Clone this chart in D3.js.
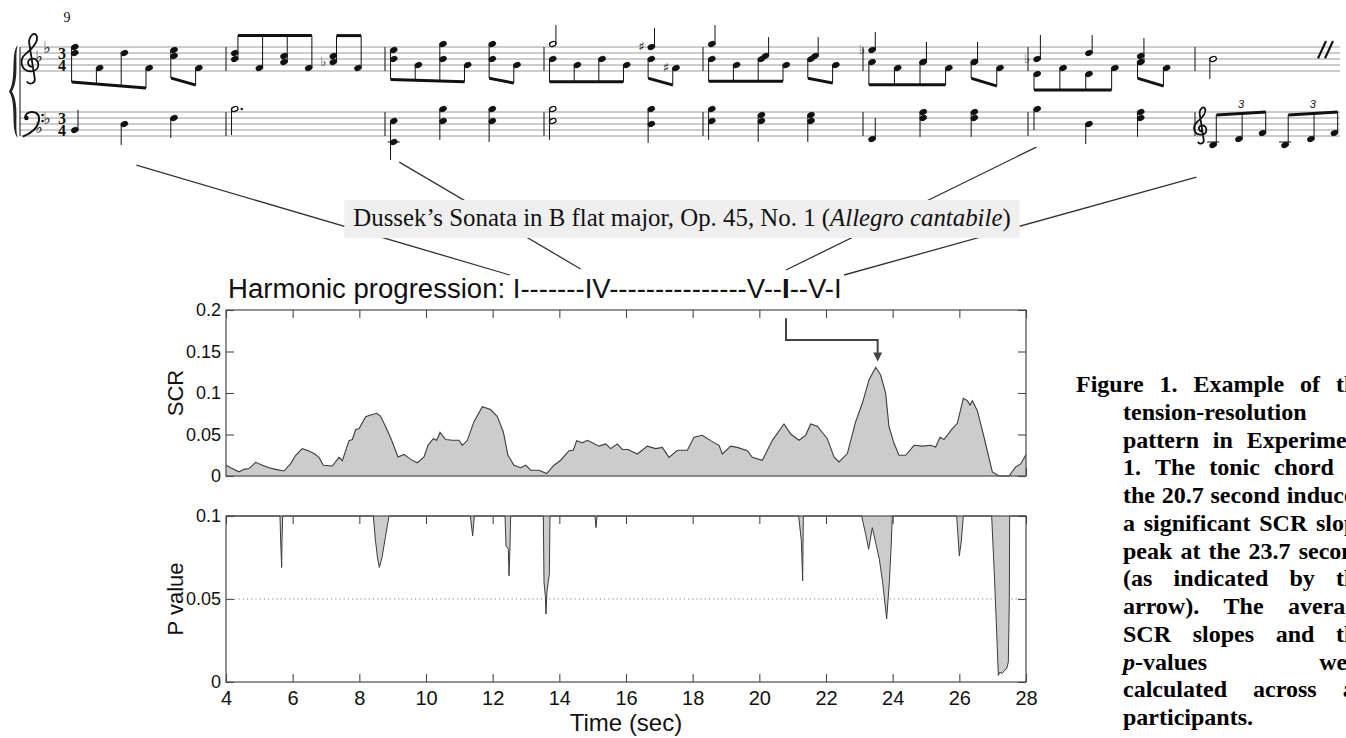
<!DOCTYPE html>
<html>
<head>
<meta charset="utf-8">
<script src="https://cdn.jsdelivr.net/npm/d3@7"></script>
<style>
  body { margin: 0; background: #fff; }
  svg { display: block; }
</style>
</head>
<body>
<svg id="fig" width="1346" height="738"></svg>
<script>
// ---------------- data ----------------
const timeTicks = [4, 6, 8, 10, 12, 14, 16, 18, 20, 22, 24, 26, 28];
const scrTicks = [0, 0.05, 0.1, 0.15, 0.2];
const pTicks = [0, 0.05, 0.1];
const pThreshold = 0.05;

// average SCR slope, [time (sec), value]
const scrSeries = [
  [4.00,0.013],[4.14,0.010],[4.39,0.005],[4.54,0.008],[4.69,0.009],[4.89,0.0165],[5.09,0.013],
  [5.29,0.010],[5.49,0.008],[5.74,0.006],[5.94,0.015],[6.09,0.025],[6.29,0.033],[6.49,0.030],
  [6.64,0.027],[6.79,0.0225],[6.92,0.013],[7.19,0.012],[7.39,0.0225],[7.49,0.0185],[7.69,0.0426],
  [7.79,0.044],[7.89,0.056],[7.99,0.057],[8.19,0.0715],[8.34,0.0735],[8.52,0.0755],[8.64,0.072],
  [8.84,0.055],[8.99,0.041],[9.16,0.023],[9.34,0.026],[9.54,0.020],[9.74,0.016],[9.94,0.023],
  [10.06,0.037],[10.22,0.045],[10.32,0.043],[10.42,0.0525],[10.59,0.044],[10.79,0.043],[10.99,0.043],
  [11.09,0.037],[11.24,0.043],[11.44,0.0655],[11.69,0.0835],[11.94,0.080],[12.14,0.0715],[12.32,0.053],
  [12.46,0.025],[12.64,0.013],[12.84,0.010],[12.99,0.013],[13.14,0.007],[13.39,0.007],[13.62,0.003],
  [13.84,0.013],[14.04,0.019],[14.29,0.0305],[14.42,0.031],[14.52,0.0426],[14.69,0.040],[14.84,0.043],
  [14.99,0.040],[15.19,0.036],[15.39,0.0386],[15.54,0.033],[15.74,0.0386],[15.89,0.032],[16.06,0.032],
  [16.34,0.0265],[16.64,0.036],[16.89,0.033],[17.09,0.0345],[17.29,0.0225],[17.54,0.031],[17.84,0.031],
  [18.04,0.0466],[18.29,0.049],[18.54,0.0426],[18.79,0.037],[18.89,0.0265],[19.14,0.036],[19.34,0.0345],
  [19.64,0.0305],[19.79,0.0225],[20.09,0.019],[20.39,0.043],[20.74,0.0627],[20.94,0.0506],[21.19,0.043],
  [21.39,0.049],[21.54,0.0627],[21.74,0.060],[22.04,0.045],[22.24,0.023],[22.39,0.017],[22.64,0.027],
  [22.89,0.0655],[23.09,0.0876],[23.29,0.1157],[23.49,0.131],[23.64,0.1217],[23.79,0.0996],[23.89,0.0594],
  [24.04,0.0394],[24.19,0.025],[24.39,0.025],[24.64,0.037],[24.89,0.036],[25.14,0.037],[25.29,0.035],
  [25.42,0.0466],[25.54,0.044],[25.79,0.057],[25.94,0.0635],[26.12,0.0936],[26.24,0.0908],[26.32,0.0855],
  [26.39,0.0908],[26.54,0.0787],[26.74,0.047],[26.99,0.005],[27.19,0],[27.49,0],[27.69,0.011],
  [27.84,0.0145],[28.00,0.026]
];

// p values, [time (sec), p]; p of 0.1 or more sits above the plotted range
const pSeries = [
  [4,0.1],
  [5.62,0.1],[5.64,0.085],[5.67,0.069],[5.68,0.085],[5.70,0.1],
  [8.42,0.1],[8.48,0.086],[8.55,0.074],[8.60,0.069],[8.68,0.075],[8.78,0.087],[8.89,0.1],
  [11.33,0.1],[11.40,0.088],[11.45,0.1],
  [12.37,0.1],[12.40,0.082],[12.47,0.080],[12.49,0.064],[12.52,0.082],[12.54,0.1],
  [13.52,0.1],[13.54,0.060],[13.58,0.052],[13.60,0.041],[13.63,0.055],[13.70,0.065],[13.72,0.1],
  [15.07,0.1],[15.10,0.093],[15.13,0.1],
  [21.18,0.1],[21.26,0.085],[21.30,0.061],[21.32,0.1],
  [23.07,0.1],[23.20,0.088],[23.28,0.080],[23.39,0.093],[23.50,0.083],[23.60,0.074],[23.70,0.060],
  [23.82,0.038],[23.90,0.060],[23.95,0.080],[23.99,0.1],
  [25.92,0.1],[25.97,0.085],[26.00,0.076],[26.06,0.085],[26.12,0.1],
  [26.97,0.1],[27.05,0.065],[27.12,0.030],[27.17,0.004],[27.22,0.006],[27.28,0.005],[27.35,0.007],
  [27.42,0.008],[27.47,0.012],[27.50,0.050],[27.51,0.1],
  [28,0.1]
];

const harmonicLabel = "Harmonic progression: ";
const harmonicParts = ["I", "-------", "IV", "---------------", "V", "--", "I", "--", "V", "-", "I"];
const boldPart = 6;
// arrow from the tonic chord to the SCR peak: [time, value] corners
const arrowCorners = [[20.8, 0.19], [20.8, 0.164], [23.55, 0.164], [23.55, 0.138]];

const pieceTitle = ["Dussek’s Sonata in B flat major, Op. 45, No. 1 (", "Allegro cantabile", ")"];

const captionLines = [
  ["Figure 1. Example of the", true],
  ["tension-resolution", false],
  ["pattern in Experiment", true],
  ["1. The tonic chord at", true],
  ["the 20.7 second induced", true],
  ["a significant SCR slope", true],
  ["peak at the 23.7 second", true],
  ["(as indicated by the", true],
  ["arrow). The average", true],
  ["SCR slopes and the", true],
  ["p-values were", true],
  ["calculated across all", true],
  ["participants.", false]
];

// ---- score excerpt (bars 9-16) ----
// st: staff, m: bar index, e: eighth in bar, s: staff steps (0 = top line, 8 = bottom line)
// d: stem direction, end: stem end step, h: half note, acc: [step, sign]
const measureNumber = "9";
const keyFlats = { t: [4, 1], b: [6, 3] };
const timeSig = ["3", "4"];
const scoreNotes = [
  {st:"t",m:0,e:0,s:[0,2],d:"d"},{st:"t",m:0,e:1,s:[7],d:"d"},{st:"t",m:0,e:2,s:[2],d:"d"},
  {st:"t",m:0,e:3,s:[7],d:"d"},{st:"t",m:0,e:4,s:[1,3],d:"d"},{st:"t",m:0,e:5,s:[7],d:"d"},

  {st:"t",m:1,e:0,s:[2,4],d:"u"},{st:"t",m:1,e:1,s:[7],d:"u"},{st:"t",m:1,e:2,s:[3,5],d:"u"},
  {st:"t",m:1,e:3,s:[7],d:"u"},{st:"t",m:1,e:4,s:[3,5],d:"u",acc:[5,"♭"]},{st:"t",m:1,e:5,s:[7],d:"u"},

  {st:"t",m:2,e:0,s:[1,4],d:"d"},{st:"t",m:2,e:1,s:[6],d:"d"},{st:"t",m:2,e:2,s:[-1,4],d:"d"},
  {st:"t",m:2,e:3,s:[6],d:"d"},{st:"t",m:2,e:4,s:[-1,4],d:"d"},{st:"t",m:2,e:5,s:[6],d:"d"},

  {st:"t",m:3,e:0,s:[-1],d:"u",h:true,end:-7.3},
  {st:"t",m:3,e:0,s:[4],d:"d"},{st:"t",m:3,e:1,s:[6],d:"d"},{st:"t",m:3,e:2,s:[4],d:"d"},{st:"t",m:3,e:3,s:[6],d:"d"},
  {st:"t",m:3,e:4,s:[0],d:"u",end:-6.3,acc:[0,"♯"]},
  {st:"t",m:3,e:4,s:[4],d:"d"},{st:"t",m:3,e:5,s:[7],d:"d",acc:[7,"♯"]},

  {st:"t",m:4,e:0,s:[-1],d:"u",end:-7.3},
  {st:"t",m:4,e:0,s:[4],d:"d"},{st:"t",m:4,e:1,s:[6],d:"d"},{st:"t",m:4,e:2,s:[4],d:"d"},{st:"t",m:4,e:3,s:[6],d:"d"},
  {st:"t",m:4,e:2,s:[3],d:"u",end:-3.3,dx:4},{st:"t",m:4,e:4,s:[3],d:"u",end:-3.3,dx:4},
  {st:"t",m:4,e:4,s:[4],d:"d"},{st:"t",m:4,e:5,s:[6],d:"d"},

  {st:"t",m:5,e:0,s:[1],d:"u",end:-5,acc:[1,"♭"]},
  {st:"t",m:5,e:0,s:[5],d:"d"},{st:"t",m:5,e:1,s:[7],d:"d"},{st:"t",m:5,e:2,s:[5],d:"d"},{st:"t",m:5,e:3,s:[7],d:"d"},
  {st:"t",m:5,e:2,s:[5],d:"u",end:-1.7},{st:"t",m:5,e:4,s:[5],d:"u",end:-1.7},
  {st:"t",m:5,e:4,s:[5],d:"d"},{st:"t",m:5,e:5,s:[7],d:"d"},

  {st:"t",m:6,e:0,s:[4],d:"u",end:-4,acc:[4,"♭"]},
  {st:"t",m:6,e:0,s:[9],d:"d"},{st:"t",m:6,e:1,s:[7],d:"d"},{st:"t",m:6,e:2,s:[9],d:"d"},{st:"t",m:6,e:3,s:[7],d:"d"},
  {st:"t",m:6,e:2,s:[2],d:"u",end:-4},{st:"t",m:6,e:4,s:[3,5],d:"u",end:-3},
  {st:"t",m:6,e:4,s:[5],d:"d"},{st:"t",m:6,e:5,s:[7],d:"d"},

  {st:"t",m:7,e:0.45,s:[4],d:"d",h:true,end:10.7},

  {st:"b",m:0,e:0,s:[6],d:"u",end:-0.7},{st:"b",m:0,e:2,s:[4],d:"d",end:11},{st:"b",m:0,e:4,s:[2],d:"d",end:8.7},
  {st:"b",m:1,e:0,s:[-1],d:"d",h:true,end:7.7,dot:true},
  {st:"b",m:2,e:0,s:[3,10],d:"d",end:16},{st:"b",m:2,e:2,s:[-1,3],d:"d",end:9.3},{st:"b",m:2,e:4,s:[-1,3],d:"d",end:10},
  {st:"b",m:3,e:0,s:[-1,3],d:"d",h:true,end:9.3},{st:"b",m:3,e:4,s:[-1,4],d:"d",end:10.3},
  {st:"b",m:4,e:0,s:[-1,3],d:"d",end:9.3},{st:"b",m:4,e:2,s:[1,3],d:"d",end:10},{st:"b",m:4,e:4,s:[1,3],d:"d",end:10},
  {st:"b",m:5,e:0,s:[9],d:"u",end:2},{st:"b",m:5,e:2,s:[0,2],d:"d",end:8.3},{st:"b",m:5,e:4,s:[0,2],d:"d",end:8.3},
  {st:"b",m:6,e:0,s:[-1],d:"d",end:6},{st:"b",m:6,e:2,s:[4],d:"d",end:10.7},{st:"b",m:6,e:4,s:[0,2],d:"d",end:8.3},
  {st:"b",m:7,e:0.45,s:[11],d:"u"},{st:"b",m:7,e:1.6,s:[9],d:"u"},{st:"b",m:7,e:2.65,s:[7],d:"u"},
  {st:"b",m:7,e:3.65,s:[11],d:"u"},{st:"b",m:7,e:4.8,s:[9],d:"u"},{st:"b",m:7,e:5.85,s:[7],d:"u"}
];
// beams: staff, bar, first/last eighth, direction, start/end step
const scoreBeams = [
  {st:"t",m:0,e0:0,e1:3,d:"d",s0:11.7,s1:13.7},{st:"t",m:0,e0:4,e1:5,d:"d",s0:10.3,s1:12.7},
  {st:"t",m:1,e0:0,e1:3,d:"u",s0:-3.8,s1:-3.8},{st:"t",m:1,e0:4,e1:5,d:"u",s0:-3.8,s1:-3.8},
  {st:"t",m:2,e0:0,e1:3,d:"d",s0:10.8,s1:11.6},{st:"t",m:2,e0:4,e1:5,d:"d",s0:10.4,s1:12},
  {st:"t",m:3,e0:0,e1:3,d:"d",s0:11.6,s1:11.6},{st:"t",m:3,e0:4,e1:5,d:"d",s0:10.4,s1:12.7},
  {st:"t",m:4,e0:0,e1:3,d:"d",s0:11.4,s1:11.4},{st:"t",m:4,e0:4,e1:5,d:"d",s0:10.4,s1:12},
  {st:"t",m:5,e0:0,e1:3,d:"d",s0:12.6,s1:12.6},{st:"t",m:5,e0:4,e1:5,d:"d",s0:10.4,s1:13},
  {st:"t",m:6,e0:0,e1:3,d:"d",s0:14.3,s1:14.3},{st:"t",m:6,e0:4,e1:5,d:"d",s0:10.4,s1:13},
  {st:"b",m:7,e0:0.45,e1:2.65,d:"u",s0:1,s1:0,tri:true},{st:"b",m:7,e0:3.65,e1:5.85,d:"u",s0:1,s1:0,tri:true}
];
// lines from the score down to the chord names: bar position, bass-staff step, chord part
const connectors = [
  {m:0.44, s:17.7, part:0, dx:-3, dy:-23},
  {m:2.09, s:16.7, part:2, dx:-4, dy:-29},
  {m:6.05, s:11.7, part:6, dx:4, dy:-28},
  {m:7.01, s:21.7, part:10, dx:10, dy:-23}
];

// ---------------- drawing ----------------
const svg = d3.select("#fig");
const sans = "'Liberation Sans', Arial, sans-serif";
const serif = "'Liberation Serif', 'Times New Roman', serif";
const ink = "#111";

// ---- score ----
const score = svg.append("g");
const barX = d3.scaleLinear().domain(d3.range(9)).range([66, 226, 385, 544, 703, 863, 1028, 1195, 1340]);
const noteX = (m, e) => barX(m + 0.055 + e * 0.155);
const trebleY = d3.scaleLinear().domain([0, 8]).range([47, 71]);
const bassY = d3.scaleLinear().domain([0, 8]).range([112, 136]);
const staffY = st => st === "t" ? trebleY : bassY;

[trebleY, bassY].forEach(ys => {
  [0, 2, 4, 6, 8].forEach(l => score.append("line")
    .attr("x1", 20).attr("x2", 1340).attr("y1", ys(l)).attr("y2", ys(l))
    .attr("stroke", "#9a9a9a").attr("stroke-width", 1));
  d3.range(1, 8).forEach(b => score.append("line")
    .attr("x1", barX(b)).attr("x2", barX(b)).attr("y1", ys(0)).attr("y2", ys(8))
    .attr("stroke", "#333").attr("stroke-width", 1.2));
});
score.append("line").attr("x1", 20).attr("x2", 20).attr("y1", trebleY(0)).attr("y2", bassY(8))
  .attr("stroke", "#333").attr("stroke-width", 1.2);
score.append("path")
  .attr("d", "M18,45 C10,52 17,79 9,91.5 C17,104 10,131 18,138 C14,129 20,105 12,91.5 C20,78 14,54 18,45 Z")
  .attr("fill", "#222");

const trebleClef = "M0.3,0.3 C-0.6,0.3 -0.8,-0.9 0.2,-1.0 C1.4,-1.1 1.6,0.9 0.1,1.0 C-1.6,1.1 -2.0,-0.8 -0.8,-1.8 " +
  "C0.4,-2.8 1.2,-3.8 0.9,-4.6 C0.6,-5.4 -0.3,-4.6 -0.3,-3.6 L0.6,2.2 C0.7,2.9 -0.2,3.2 -0.6,2.7";
function drawTrebleClef(cx, gy, k) {
  score.append("path").attr("d", trebleClef)
    .attr("transform", `translate(${cx},${gy}) scale(${k})`)
    .attr("fill", "none").attr("stroke", ink).attr("stroke-width", 1.8)
    .attr("vector-effect", "non-scaling-stroke").attr("stroke-linecap", "round");
}
drawTrebleClef(31, trebleY(6), 6.3);
drawTrebleClef(1201, bassY(6), 4.6);

const bc = score.append("g").attr("transform", `translate(30,${bassY(2)}) scale(6)`);
bc.append("circle").attr("cx", -0.6).attr("cy", 0).attr("r", 0.38).attr("fill", ink);
bc.append("path").attr("d", "M-0.8,0 C-0.9,-1.3 1.5,-1.4 1.5,0 C1.6,1.5 0.2,2.6 -1.2,3.1")
  .attr("fill", "none").attr("stroke", ink).attr("stroke-width", 2).attr("vector-effect", "non-scaling-stroke");
[-0.5, 0.5].forEach(dy => bc.append("circle").attr("cx", 2.1).attr("cy", dy).attr("r", 0.22).attr("fill", ink));

Object.entries(keyFlats).forEach(([st, steps]) => steps.forEach((s, i) =>
  score.append("text").attr("x", 39 + i * 8).attr("y", staffY(st)(s) + 3)
    .attr("text-anchor", "middle").style("font-family", "'DejaVu Sans'").style("font-size", "16px")
    .attr("fill", ink).text("♭")));
["t", "b"].forEach(st => {
  const ts = score.append("text").attr("text-anchor", "middle").style("font-family", serif)
    .style("font-weight", "bold").style("font-size", "16px").attr("fill", ink);
  timeSig.forEach((t, i) => ts.append("tspan").attr("x", 62).attr("y", staffY(st)(4 + i * 4) - 0.5).text(t));
});
score.append("text").attr("x", 67).attr("y", 22).attr("text-anchor", "middle")
  .style("font-family", serif).style("font-size", "14px").attr("fill", ink).text(measureNumber);

const stemX = n => { const hx = noteX(n.m, n.e) + (n.dx || 0); return n.d === "u" ? hx + 3.2 : hx - 3.2; };
const beamFor = n => scoreBeams.find(b => b.st === n.st && b.m === n.m && b.d === n.d &&
  n.e >= b.e0 - 1e-6 && n.e <= b.e1 + 1e-6);
function beamY(b, sx) {
  const xa = stemX({m: b.m, e: b.e0, d: b.d}), xb = stemX({m: b.m, e: b.e1, d: b.d});
  return staffY(b.st)(b.s0 + (b.s1 - b.s0) * (sx - xa) / (xb - xa));
}

scoreNotes.forEach(n => {
  const ys = staffY(n.st);
  const hx = noteX(n.m, n.e) + (n.dx || 0);
  n.s.forEach(s => {
    const ledgers = [];
    for (let l = 10; l <= s; l += 2) ledgers.push(l);
    for (let l = -2; l >= s; l -= 2) ledgers.push(l);
    ledgers.forEach(l => score.append("line").attr("x1", hx - 6).attr("x2", hx + 6)
      .attr("y1", ys(l)).attr("y2", ys(l)).attr("stroke", ink).attr("stroke-width", 1));
    score.append("ellipse").attr("cx", hx).attr("cy", ys(s))
      .attr("rx", n.h ? 3.4 : 3.7).attr("ry", n.h ? 2.3 : 2.6)
      .attr("transform", `rotate(-22 ${hx} ${ys(s)})`)
      .attr("fill", n.h ? "#fff" : ink).attr("stroke", ink).attr("stroke-width", n.h ? 1.3 : 0.5);
  });
  if (n.d) {
    const sx = stemX(n);
    const head = n.d === "u" ? d3.max(n.s) : d3.min(n.s);
    const b = beamFor(n);
    const yEnd = b ? beamY(b, sx) : ys(n.end != null ? n.end : (n.d === "u" ? head - 7 : head + 7));
    score.append("line").attr("x1", sx).attr("x2", sx).attr("y1", ys(head)).attr("y2", yEnd)
      .attr("stroke", ink).attr("stroke-width", 1);
  }
  if (n.acc) score.append("text").attr("x", hx - 10).attr("y", ys(n.acc[0]) + 4)
    .attr("text-anchor", "middle").style("font-family", "'DejaVu Sans'").style("font-size", "13px")
    .attr("fill", ink).text(n.acc[1]);
  if (n.dot) score.append("circle").attr("cx", hx + 7).attr("cy", ys(n.s[0])).attr("r", 1.2).attr("fill", ink);
});

scoreBeams.forEach(b => {
  const xa = stemX({m: b.m, e: b.e0, d: b.d}), xb = stemX({m: b.m, e: b.e1, d: b.d});
  const ya = beamY(b, xa), yb = beamY(b, xb);
  score.append("path").attr("d", `M${xa},${ya - 1.5} L${xb},${yb - 1.5} L${xb},${yb + 1.5} L${xa},${ya + 1.5} Z`)
    .attr("fill", ink);
  if (b.tri) score.append("text").attr("x", (xa + xb) / 2).attr("y", Math.min(ya, yb) - 4)
    .attr("text-anchor", "middle").style("font-family", sans).style("font-style", "italic")
    .style("font-size", "11px").attr("fill", ink).text("3");
});
[0, 7].forEach(dx => score.append("line").attr("x1", 1318 + dx).attr("y1", trebleY(3.8))
  .attr("x2", 1326 + dx).attr("y2", trebleY(-2)).attr("stroke", ink).attr("stroke-width", 2.2));

// ---- connectors, title box, harmonic line ----
const gConn = svg.append("g");
const gBox = svg.append("g");

const title = gBox.append("text").attr("x", 682).attr("y", 226).attr("text-anchor", "middle")
  .style("font-family", serif).style("font-size", "21px").attr("fill", "#111");
pieceTitle.forEach((t, i) => title.append("tspan").style("font-style", i === 1 ? "italic" : null).text(t));
const tLen = title.node().getComputedTextLength();
title.style("font-size", (21 * 658 / tLen) + "px");
const tb = title.node().getBBox();
gBox.insert("rect", "text").attr("x", tb.x - 9).attr("y", 200).attr("width", tb.width + 18).attr("height", 38)
  .attr("fill", "#efefef");

const harm = svg.append("text").attr("x", 228).attr("y", 298).attr("xml:space", "preserve")
  .style("font-family", sans).style("font-size", "24px").attr("fill", "#111");
harm.append("tspan").text(harmonicLabel);
harmonicParts.forEach((p, i) => harm.append("tspan").style("font-weight", i === boldPart ? "bold" : null).text(p));
harm.style("font-size", (24 * 614 / harm.node().getComputedTextLength()) + "px");
const partStart = [];
harmonicParts.reduce((idx, p) => { partStart.push(idx); return idx + p.length; }, harmonicLabel.length);

connectors.forEach(c => {
  const pos = harm.node().getStartPositionOfChar(partStart[c.part]);
  gConn.append("line")
    .attr("x1", barX(c.m)).attr("y1", bassY(c.s))
    .attr("x2", pos.x + c.dx).attr("y2", 298 + c.dy)
    .attr("stroke", "#333").attr("stroke-width", 1.3);
});

// ---- plots ----
const x = d3.scaleLinear().domain([4, 28]).range([226, 1026]);
const yScr = d3.scaleLinear().domain([0, 0.2]).range([476, 310]);
const yP = d3.scaleLinear().domain([0, 0.1]).range([682, 516]);
const frame = "#4a4a4a";

function axes(y, yTicks, showX) {
  const [y0, y1] = y.range();
  const g = svg.append("g");
  const styleAxis = (a, size) => {
    a.select(".domain").remove();
    a.selectAll(".tick line").attr("stroke", frame).attr("stroke-width", 1.1);
    a.selectAll(".tick text").style("font-family", sans).style("font-size", size + "px").attr("fill", "#111");
  };
  g.append("g").attr("transform", `translate(0,${y0})`)
    .call(d3.axisBottom(x).tickValues(timeTicks).tickSize(-8).tickSizeOuter(0).tickPadding(9)
      .tickFormat(showX ? d => d : ""))
    .call(styleAxis, 20);
  g.append("g").attr("transform", `translate(0,${y1})`)
    .call(d3.axisTop(x).tickValues(timeTicks).tickSize(-8).tickSizeOuter(0).tickFormat(""))
    .call(styleAxis, 20);
  g.append("g").attr("transform", `translate(226,0)`)
    .call(d3.axisLeft(y).tickValues(yTicks).tickSize(-8).tickSizeOuter(0).tickPadding(5).tickFormat(d => d))
    .call(styleAxis, 18);
  g.append("g").attr("transform", `translate(1026,0)`)
    .call(d3.axisRight(y).tickValues(yTicks).tickSize(-8).tickSizeOuter(0).tickFormat(""))
    .call(styleAxis, 18);
  return g;
}

axes(yScr, scrTicks, false);
svg.append("path").datum(scrSeries)
  .attr("d", d3.area().x(d => x(d[0])).y0(yScr(0)).y1(d => yScr(d[1])))
  .attr("fill", "#cccccc");
svg.append("path").datum(scrSeries)
  .attr("d", d3.line().x(d => x(d[0])).y(d => yScr(d[1])))
  .attr("fill", "none").attr("stroke", "#3c3c3c").attr("stroke-width", 1.1);
svg.append("rect").attr("x", 226).attr("y", 310).attr("width", 800).attr("height", 166)
  .attr("fill", "none").attr("stroke", frame).attr("stroke-width", 1.2);

axes(yP, pTicks, true);
svg.append("line").attr("x1", x(4)).attr("x2", x(28)).attr("y1", yP(pThreshold)).attr("y2", yP(pThreshold))
  .attr("stroke", "#8a8a8a").attr("stroke-width", 1).attr("stroke-dasharray", "1.2,3");
svg.append("path").datum(pSeries)
  .attr("d", d3.area().x(d => x(d[0])).y0(yP(0.1)).y1(d => yP(Math.min(d[1], 0.1))))
  .attr("fill", "#cccccc");
svg.append("path").datum(pSeries)
  .attr("d", d3.line().x(d => x(d[0])).y(d => yP(Math.min(d[1], 0.1))))
  .attr("fill", "none").attr("stroke", "#3c3c3c").attr("stroke-width", 1);
svg.append("rect").attr("x", 226).attr("y", 516).attr("width", 800).attr("height", 166)
  .attr("fill", "none").attr("stroke", frame).attr("stroke-width", 1.2);

// arrow
const arrowEnd = arrowCorners[arrowCorners.length - 1];
svg.append("path").datum(arrowCorners.slice(0, -1).concat([[arrowEnd[0], arrowEnd[1] + 0.01]]))
  .attr("d", d3.line().x(d => x(d[0])).y(d => yScr(d[1])))
  .attr("fill", "none").attr("stroke", "#444").attr("stroke-width", 2);
const ax = x(arrowEnd[0]), ay = yScr(arrowEnd[1]);
svg.append("path").attr("d", `M${ax - 4.5},${ay - 9} L${ax + 4.5},${ay - 9} L${ax},${ay} Z`).attr("fill", "#444");

// axis titles
const label = (t, px, py) => svg.append("text")
  .attr("transform", `translate(${px},${py}) rotate(-90)`)
  .attr("text-anchor", "middle").style("font-family", sans).style("font-size", "22px")
  .attr("fill", "#111").text(t);
label("SCR", 183, 393);
label("P value", 183, 599);
svg.append("text").attr("x", 626).attr("y", 731).attr("text-anchor", "middle")
  .style("font-family", sans).style("font-size", "24px").attr("fill", "#111").text("Time (sec)");

// ---- figure caption (justified, runs past the right edge) ----
const cap = svg.append("g").style("font-family", serif).style("font-size", "24px")
  .style("font-weight", "bold").attr("fill", "#000");
const capRight = 1368;
captionLines.forEach(([line, justify], i) => {
  const y = 392 + i * 27.75;
  const x0 = i === 0 ? 1076 : 1123;
  const words = line.split(" ");
  const nodes = words.map(w => {
    const t = cap.append("text").attr("y", y);
    if (w === "p-values") {
      t.append("tspan").style("font-style", "italic").text("p");
      t.append("tspan").text("-values");
    } else t.text(w);
    return t;
  });
  const widths = nodes.map(t => t.node().getComputedTextLength());
  const total = d3.sum(widths);
  const gap = justify && words.length > 1 ? (capRight - x0 - total) / (words.length - 1) : 6;
  let cx = x0;
  nodes.forEach((t, k) => { t.attr("x", cx); cx += widths[k] + gap; });
});
</script>
</body>
</html>
